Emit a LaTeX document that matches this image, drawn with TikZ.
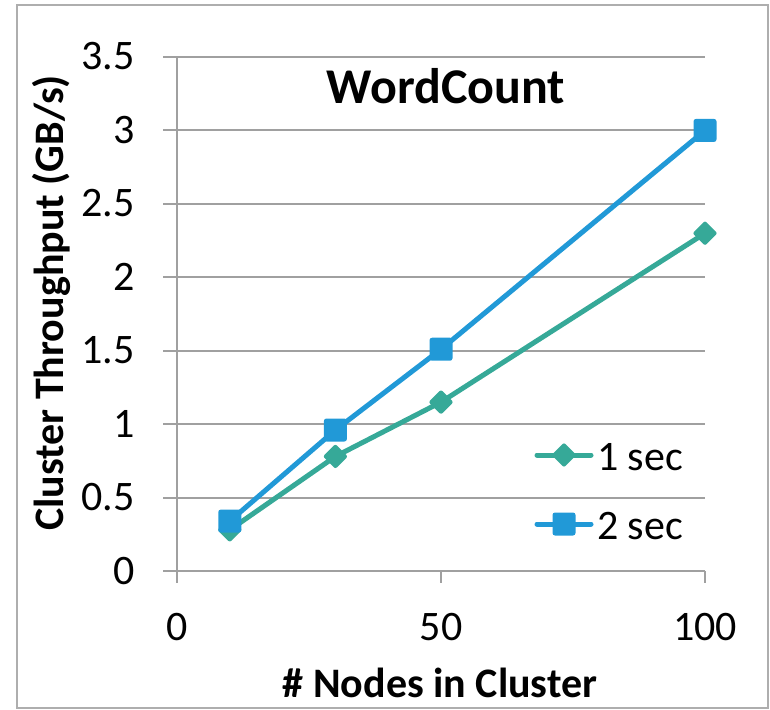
\documentclass[tikz,border=0pt]{standalone}
\usepackage{fontspec}
\setmainfont{Carlito}
\usepackage{tikz}
\usetikzlibrary{shapes.geometric}
\definecolor{secone}{RGB}{54,169,152}
\definecolor{sectwo}{RGB}{33,153,215}
\definecolor{gridgray}{RGB}{160,160,160}
\tikzset{
	ticklbl/.style={font=\fontsize{42}{50}\selectfont, inner sep=0pt},
	axtitle/.style={font=\fontsize{42}{50}\selectfont\bfseries, inner sep=0pt},
	gridline/.style={gridgray, line width=2pt},
	seriesline/.style={line width=5pt, line join=round},
	sqmarker/.style={rectangle, fill=sectwo, minimum size=23pt, inner sep=0pt, rounded corners=2.5pt},
	diamarker/.style={diamond, fill=secone, minimum width=25pt, minimum height=25pt, inner sep=0pt, rounded corners=2pt}
}

\begin{document}
\begin{tikzpicture}[x=1pt,y=-1pt]
	\useasboundingbox (0,0) rectangle (770,709);
	\draw[gridgray!85, line width=1.5pt] (17,5) rectangle (768,708);
	\begin{scope}[shift={(177,571)}, x=5.28pt, y=146.86pt]
		\foreach \v [count=\i] in {0.5,1,1.5,2,2.5,3,3.5}
			\draw[gridline] (-2.65,\v) -- (100,\v);
		\draw[gridline] (-2.65,0) -- (100,0);
		\draw[gridline] (0,3.5) -- (0,0) -- ++(0,-12pt);
		\foreach \u in {50,100}
			\draw[gridline] (\u,0) -- ++(0,-12pt);
		\foreach \v [count=\i] in {0,0.5,1,1.5,2,2.5,3,3.5}
			\node[ticklbl, anchor=base east, yshift=-13pt] (ylab\i) at (-7.95,\v) {\v};
		\foreach \u [count=\i] in {0,50,100}
			\node[ticklbl, anchor=base, yshift=-69pt] (xlab\i) at (\u,0) {\u};
		\coordinate (a1) at (10,0.28);
		\coordinate (a2) at (30,0.78);
		\coordinate (a3) at (50,1.15);
		\coordinate (a4) at (100,2.3);
		\coordinate (b1) at (10,0.34);
		\coordinate (b2) at (30,0.96);
		\coordinate (b3) at (50,1.51);
		\coordinate (b4) at (100,3.0);
		\draw[secone, seriesline] (a1) -- (a2) -- (a3) -- (a4);
		\foreach \i in {1,...,4}
			\node[diamarker] (da\i) at (a\i) {};
		\draw[sectwo, seriesline] (b1) -- (b2) -- (b3) -- (b4);
		\foreach \i in {1,...,4}
			\node[sqmarker] (sb\i) at (b\i) {};
	\end{scope}
	\node[font=\fontsize{50}{60}\selectfont\bfseries, anchor=base, inner sep=0pt] (title) at (446,103) {WordCount};
	\node[axtitle, anchor=base] (xtitle) at (440,697) {\# Nodes in Cluster};
	\node[axtitle, anchor=base, rotate=90] (ytitle) at (63,303) {Cluster Throughput (GB/s)};
	\coordinate (l1a) at (537,455);
	\coordinate (l1b) at (591,455);
	\coordinate (l2a) at (537,524);
	\coordinate (l2b) at (591,524);
	\draw[secone, seriesline, line cap=round] (l1a) -- (l1b);
	\node[diamarker] (ldia) at (564,455) {};
	\draw[sectwo, seriesline, line cap=round] (l2a) -- (l2b);
	\node[sqmarker] (lsq) at (564,524) {};
	\node[ticklbl, anchor=base west] (ltxt1) at (597,470) {1 sec};
	\node[ticklbl, anchor=base west] (ltxt2) at (597,539) {2 sec};
\end{tikzpicture}
\end{document}
